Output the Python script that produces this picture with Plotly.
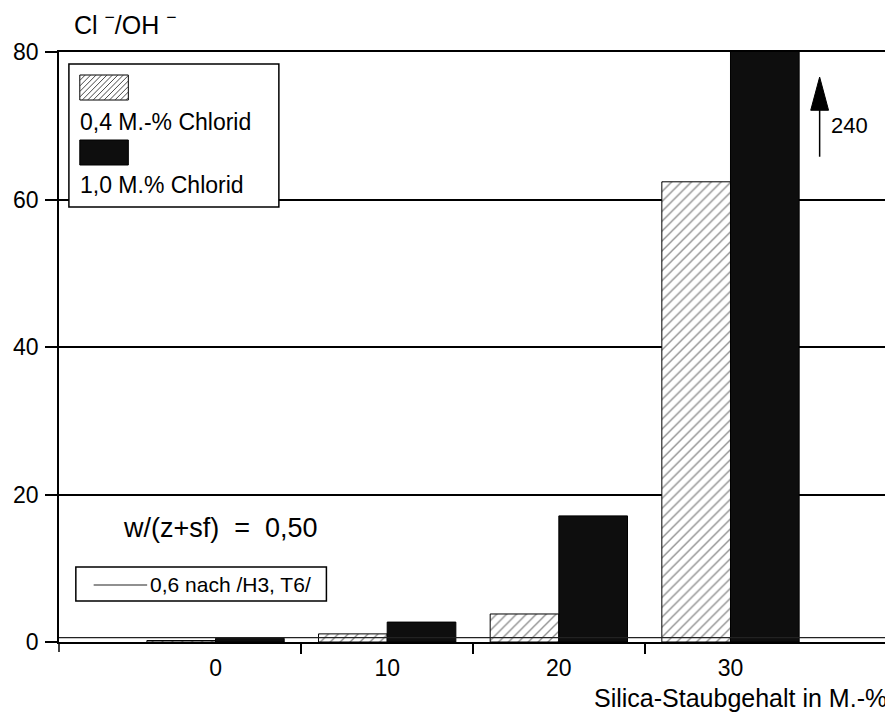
import plotly.graph_objects as go

# ---------------- data ----------------
categories = ["0", "10", "20", "30"]          # Silica-Staubgehalt in M.-%
chlorid_04 = [0.2, 1.1, 3.8, 62.4]            # 0,4 M.-% Chlorid
chlorid_10 = [0.5, 2.7, 17.1, 240.0]          # 1,0 M.% Chlorid (30 % -> 240, off scale)
ref_value = 0.6                               # 0,6 nach /H3, T6/
y_ticks = [0, 20, 40, 60, 80]
y_max = 80
off_scale_label = "240"

name_04 = "0,4 M.-% Chlorid"
name_10 = "1,0 M.% Chlorid"
name_ref = "0,6 nach /H3, T6/"

FONT = "Arial, Liberation Sans, Helvetica, sans-serif"

# ---------------- geometry helpers (decoration only) ----------------
# page has an 8px body margin; target positions are in window pixels
OFF = 8
WIN_W, WIN_H = 893, 719
W, H = WIN_W - OFF, WIN_H - OFF
L, R, T, B = 53, 888, 52, 642          # plot area in window pixels
PW, PH = R - L, B - T


def px(x):
    return (x - L) / PW


def py(y):
    return (B - y) / PH


idx = list(range(len(categories)))
x_lo, x_hi = -0.912, len(categories) - 0.094
boundaries = [i + 0.5 for i in idx[:-1]]

fig = go.Figure()

fig.add_trace(go.Bar(
    x=idx, y=chlorid_04, name=name_04, showlegend=False,
    marker=dict(color="white",
                line=dict(color="black", width=1),
                pattern=dict(shape="/", fgcolor="#222222", bgcolor="white",
                             size=7, solidity=0.2)),
))
fig.add_trace(go.Bar(
    x=idx, y=chlorid_10, name=name_10, showlegend=False,
    marker=dict(color="#0e0e0e", line=dict(color="black", width=1)),
))

# reference line (on overlay axis that carries the boundary ticks)
fig.add_trace(go.Scatter(
    x=[x_lo, x_hi], y=[ref_value, ref_value], mode="lines",
    name=name_ref, xaxis="x2", yaxis="y",
    line=dict(color="#222222", width=1.2),
    showlegend=False, hoverinfo="skip",
))

shapes = []
annotations = []

# --- custom legend for the bars (swatch above text) ---
shapes.append(dict(type="rect", xref="paper", yref="paper",
                   x0=px(63), x1=px(275), y0=py(207), y1=py(64),
                   fillcolor="white", line=dict(color="black", width=1.5),
                   layer="above"))

# hatched swatch
sx0, sx1, sy0, sy1 = 74, 123, 75, 100
shapes.append(dict(type="rect", xref="paper", yref="paper",
                   x0=px(sx0), x1=px(sx1), y0=py(sy1), y1=py(sy0),
                   fillcolor="white", line=dict(color="black", width=1),
                   layer="above"))
h = sy1 - sy0
path = ""
c = sx0 - h
while c < sx1:
    t0 = max(0, sx0 - c)
    t1 = min(h, sx1 - c)
    if t1 > t0:
        xa, ya = c + t0, sy1 - t0
        xb, yb = c + t1, sy1 - t1
        path += f"M{px(xa):.5f},{py(ya):.5f} L{px(xb):.5f},{py(yb):.5f} "
    c += 5.5
shapes.append(dict(type="path", xref="paper", yref="paper", path=path,
                   line=dict(color="#333333", width=0.9), layer="above"))

# black swatch
shapes.append(dict(type="rect", xref="paper", yref="paper",
                   x0=px(74), x1=px(123), y0=py(165), y1=py(140),
                   fillcolor="#0e0e0e", line=dict(color="black", width=1),
                   layer="above"))

annotations.append(dict(text=name_04, xref="paper", yref="paper",
                        x=px(72), y=py(122), xanchor="left", yanchor="middle",
                        showarrow=False, font=dict(size=23, family=FONT, color="black")))
annotations.append(dict(text=name_10, xref="paper", yref="paper",
                        x=px(72), y=py(185), xanchor="left", yanchor="middle",
                        showarrow=False, font=dict(size=23, family=FONT, color="black")))

# --- legend box for the reference line ---
shapes.append(dict(type="rect", xref="paper", yref="paper",
                   x0=px(70), x1=px(323), y0=py(601), y1=py(567),
                   fillcolor="white", line=dict(color="black", width=1.5),
                   layer="above"))
shapes.append(dict(type="line", xref="paper", yref="paper",
                   x0=px(88), x1=px(142), y0=py(585), y1=py(585),
                   line=dict(color="#222222", width=1.2), layer="above"))
annotations.append(dict(text=name_ref, xref="paper", yref="paper",
                        x=px(143), y=py(584), xanchor="left", yanchor="middle",
                        showarrow=False, font=dict(size=21, family=FONT, color="black")))

# --- y axis extends a little below zero ---
shapes.append(dict(type="line", xref="paper", yref="paper",
                   x0=0, x1=0, y0=py(652), y1=0,
                   line=dict(color="black", width=1.5)))

# --- off-scale arrow with value ---
ax_x = px(821)
shapes.append(dict(type="line", xref="paper", yref="y",
                   x0=ax_x, x1=ax_x, y0=65.8, y1=72.5,
                   line=dict(color="black", width=1.5)))
shapes.append(dict(type="path", xref="paper", yref="y",
                   path=f"M{ax_x:.5f},76.6 L{px(812):.5f},72.1 L{px(830):.5f},72.1 Z",
                   fillcolor="black", line=dict(color="black", width=1)))
annotations.append(dict(text=off_scale_label, xref="paper", yref="y",
                        x=px(830), y=70.1, xanchor="left", yanchor="middle",
                        showarrow=False, font=dict(size=22, family=FONT, color="black")))

# --- other texts ---
NB = "\u00a0"
annotations.append(dict(text=f"w/(z+sf){NB}{NB}={NB}{NB}0,50", xref="paper", yref="paper",
                        x=px(116), y=py(528), xanchor="left", yanchor="middle",
                        showarrow=False, font=dict(size=27, family=FONT, color="black")))
annotations.append(dict(text=f"Cl{NB}<sup>−</sup>/OH{NB}<sup>−</sup>", xref="paper", yref="paper",
                        x=px(66), y=py(23), xanchor="left", yanchor="middle",
                        showarrow=False, font=dict(size=25, family=FONT, color="black")))
annotations.append(dict(text="Silica-Staubgehalt in M.-%", xref="paper", yref="paper",
                        x=px(891), y=py(698), xanchor="right", yanchor="middle",
                        showarrow=False, font=dict(size=25, family=FONT, color="black")))

fig.update_layout(
    width=W, height=H, autosize=False,
    margin=dict(l=L - OFF, r=W - (R - OFF), t=T - OFF, b=H - (B - OFF), pad=0),
    paper_bgcolor="white", plot_bgcolor="white",
    barmode="group", bargap=0.2, bargroupgap=0.0,
    font=dict(family=FONT, size=22, color="black"),
    showlegend=False,
    xaxis=dict(range=[x_lo, x_hi], tickvals=idx, ticktext=categories,
               ticks="", showgrid=False, zeroline=False,
               showline=True, linecolor="black", linewidth=2, mirror=True,
               ticklabelstandoff=4,
               tickfont=dict(size=23, family=FONT, color="black")),
    xaxis2=dict(range=[x_lo, x_hi], overlaying="x", anchor="y", side="bottom",
                tickvals=boundaries, ticks="outside", ticklen=11, tickwidth=1.5,
                tickcolor="black", showticklabels=False, showgrid=False,
                zeroline=False, showline=False),
    yaxis=dict(range=[0, y_max], tickvals=y_ticks, ticks="outside", ticklen=12,
               tickwidth=1.5, tickcolor="black",
               showgrid=True, gridcolor="black", gridwidth=1.5,
               zeroline=False, showline=True, linecolor="black", linewidth=1.5,
               mirror=True, ticklabelstandoff=2,
               tickfont=dict(size=23, family=FONT, color="black")),
    shapes=shapes,
    annotations=annotations,
)

fig.write_html("out.html")
